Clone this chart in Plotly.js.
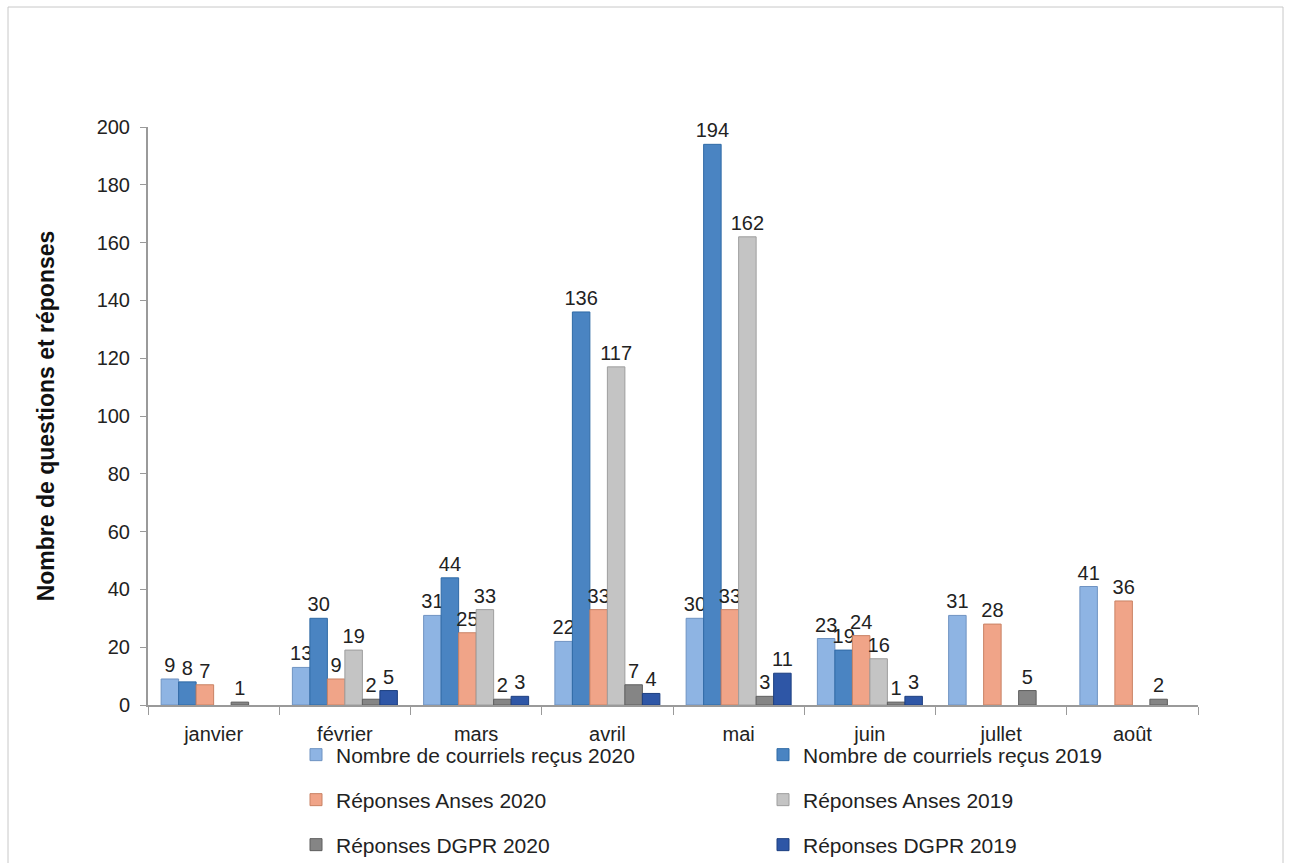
<!DOCTYPE html>
<html>
<head>
<meta charset="utf-8">
<script src="https://cdn.plot.ly/plotly-3.0.1.min.js"></script>
<style>html,body{margin:0;padding:0;background:#fff;}#chart{width:1291px;height:863px;}</style>
</head>
<body>
<div id="chart"></div>
<script>
const months = ["janvier","février","mars","avril","mai","juin","jullet","août"];
const courriels2020 = [9, 13, 31, 22, 30, 23, 31, 41];
const courriels2019 = [8, 30, 44, 136, 194, 19, null, null];
const anses2020 = [7, 9, 25, 33, 33, 24, 28, 36];
const anses2019 = [null, 19, 33, 117, 162, 16, null, null];
const dgpr2020 = [1, 2, 2, 7, 3, 1, 5, 2];
const dgpr2019 = [null, 5, 3, 4, 11, 3, null, null];

const seriesNames = ["Nombre de courriels reçus 2020","Nombre de courriels reçus 2019","Réponses Anses 2020","Réponses Anses 2019","Réponses DGPR 2020","Réponses DGPR 2019"];
const seriesData = [courriels2020, courriels2019, anses2020, anses2019, dgpr2020, dgpr2019];
const colors = ["#8EB4E3","#4A84C2","#F0A488","#C4C4C4","#858585","#2E56A6"];
const edges = ["#6F93C2","#2F6AA6","#C98264","#9E9E9E","#5E5E5E","#1D3F80"];
const legendIds = ["legend","legend","legend2","legend2","legend3","legend3"];

const font = "Liberation Sans, Arial, sans-serif";
const traces = seriesData.map((d, i) => ({
  type: "bar",
  name: seriesNames[i],
  x: months,
  y: d,
  text: d.map(v => v === null ? "" : String(v)),
  textposition: "outside",
  constraintext: "none",
  cliponaxis: false,
  textfont: {family: font, size: 20, color: "#222"},
  marker: {color: colors[i], line: {color: edges[i], width: 1}},
  legend: legendIds[i],
  hoverinfo: "x+y+name"
}));

const legBase = {
  orientation: "h", xanchor: "left", yanchor: "middle",
  xref: "container", yref: "container",
  font: {family: font, size: 21, color: "#222"},
  entrywidth: 422, entrywidthmode: "pixels",
  itemwidth: 30, bgcolor: "rgba(0,0,0,0)", traceorder: "normal"
};
const layout = {
  width: 1291, height: 863,
  paper_bgcolor: "#fff", plot_bgcolor: "#fff",
  margin: {l: 148, r: 93, t: 127, b: 158, autoexpand: false},
  barmode: "group", bargap: 0.2, bargroupgap: 0,
  font: {family: font, size: 20, color: "#222"},
  xaxis: {
    type: "category", showline: true, linecolor: "#9a9a9a", linewidth: 2,
    ticks: "outside", tickson: "boundaries", ticklen: 8, tickcolor: "#9a9a9a",
    ticklabelstandoff: 10,
    tickfont: {family: font, size: 20, color: "#222"}, showgrid: false, fixedrange: true
  },
  yaxis: {
    range: [0, 200], dtick: 20, showline: true, linecolor: "#9a9a9a", linewidth: 2,
    ticks: "outside", ticklen: 6, tickcolor: "#9a9a9a", showgrid: false, zeroline: false,
    ticklabelstandoff: 6,
    tickfont: {family: font, size: 20, color: "#222"},
    title: {text: "<b>Nombre de questions et réponses</b>", font: {family: font, size: 23, color: "#111"}, standoff: 36}
  },
  showlegend: true,
  legend: Object.assign({}, legBase, {x: 296/1291, y: 1 - 755/863}),
  legend2: Object.assign({}, legBase, {x: 296/1291, y: 1 - 800/863}),
  legend3: Object.assign({}, legBase, {x: 296/1291, y: 1 - 845/863}),
  shapes: [
    {type: "rect", xref: "paper", yref: "paper", x0: (8-148)/1050, x1: (1283-148)/1050, y0: (705-875)/578, y1: (705-7)/578,
     line: {color: "#c8c8c8", width: 1}, fillcolor: "rgba(0,0,0,0)", layer: "below"}
  ]
};

Plotly.newPlot("chart", traces, layout, {displayModeBar: false, staticPlot: true});
</script>
</body>
</html>
